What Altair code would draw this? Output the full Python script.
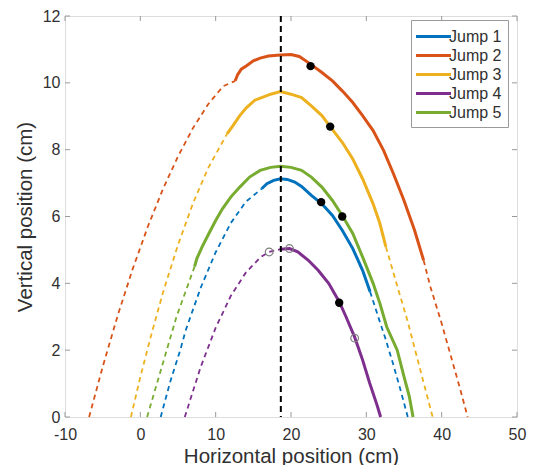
import altair as alt
import pandas as pd

jumps = ["Jump 1", "Jump 2", "Jump 3", "Jump 4", "Jump 5"]
colors = ["#0072BD", "#D95319", "#EDB120", "#7E2F8E", "#77AC30"]

# measured (solid) trajectories
j1_x = [16.1, 16.8, 17.7, 18.6, 19.5, 20.5, 21.4, 22.7, 24.1, 25.5, 26.8, 28.2, 29.5, 30.5]
j1_y = [6.83, 6.98, 7.08, 7.13, 7.11, 7.03, 6.90, 6.63, 6.38, 6.03, 5.59, 5.04, 4.39, 3.75]
j2_x = [12.6, 12.9, 13.4, 14.1, 15.0, 15.9, 17.0, 18.6, 20.0, 21.1, 22.6, 24.1, 25.5, 26.8, 28.2, 29.5, 30.9, 32.3, 33.6, 35.0, 36.4, 37.6]
j2_y = [10.06, 10.24, 10.41, 10.51, 10.66, 10.74, 10.80, 10.83, 10.85, 10.79, 10.56, 10.31, 10.06, 9.76, 9.41, 9.02, 8.57, 7.97, 7.28, 6.48, 5.59, 4.69]
j3_x = [11.5, 12.3, 13.2, 14.1, 15.2, 16.1, 17.3, 18.6, 20.0, 21.4, 22.7, 24.1, 25.2, 26.8, 28.2, 29.5, 30.9, 31.8, 32.6]
j3_y = [8.47, 8.72, 9.02, 9.26, 9.48, 9.56, 9.66, 9.74, 9.66, 9.56, 9.31, 9.02, 8.69, 8.22, 7.72, 7.13, 6.38, 5.79, 5.09]
j4_x = [18.6, 19.8, 20.9, 22.3, 23.6, 25.0, 26.4, 27.3, 28.45, 29.5, 30.45, 31.4, 31.9]
j4_y = [5.02, 5.04, 4.94, 4.69, 4.39, 4.00, 3.45, 3.00, 2.39, 1.71, 1.01, 0.37, 0.0]
j5_x = [7.2, 7.5, 8.2, 9.1, 10.0, 10.9, 12.0, 13.2, 14.5, 15.9, 17.3, 18.6, 20.0, 21.4, 22.7, 24.1, 25.5, 26.8, 28.2, 29.5, 30.9, 31.8, 32.7, 34.1, 35.0, 35.7, 36.2]
j5_y = [4.50, 4.74, 5.09, 5.49, 5.88, 6.23, 6.58, 6.88, 7.18, 7.38, 7.47, 7.50, 7.47, 7.38, 7.18, 6.88, 6.48, 6.03, 5.49, 4.79, 4.00, 3.40, 2.70, 2.00, 1.21, 0.62, 0.0]

# fitted (dashed) extrapolations
f1l_x = [2.7, 4.0, 5.3, 6.0, 8.0, 10.0, 12.0, 14.0, 16.1]
f1l_y = [0.0, 1.08, 2.0, 2.58, 3.86, 4.93, 5.80, 6.44, 6.83]
f1r_x = [30.5, 31.5, 32.5, 33.5, 34.5, 35.5]
f1r_y = [3.75, 3.05, 2.37, 1.63, 0.84, 0.0]
f2l_x = [-6.8, -5.0, -3.0, -1.0, 1.0, 3.0, 5.0, 7.0, 9.0, 11.0, 12.6]
f2l_y = [0.0, 1.5, 3.04, 4.44, 5.70, 6.82, 7.80, 8.65, 9.36, 9.90, 10.06]
f2r_x = [37.6, 38.5, 40.0, 41.5, 42.5, 43.45]
f2r_y = [4.69, 3.90, 2.80, 1.60, 0.80, 0.0]
f3l_x = [-1.25, 0.0, 1.5, 3.0, 5.0, 7.0, 9.0, 11.5]
f3l_y = [0.0, 1.2, 2.5, 3.72, 5.15, 6.40, 7.45, 8.47]
f3r_x = [32.6, 34.0, 35.5, 37.0, 38.8]
f3r_y = [5.09, 4.00, 2.85, 1.55, 0.0]
f4l_x = [5.9, 8.0, 10.0, 12.0, 14.0, 16.0, 17.1, 18.6]
f4l_y = [0.0, 1.49, 2.67, 3.62, 4.32, 4.79, 4.94, 5.02]
f5l_x = [0.9, 2.2, 3.5, 4.8, 6.4, 7.2]
f5l_y = [0.0, 1.0, 2.0, 3.0, 4.0, 4.5]

# markers
dot_x = [22.6, 25.2, 24.0, 26.8, 26.4]
dot_y = [10.5, 8.69, 6.43, 6.0, 3.42]
open_x = [17.1, 19.8, 28.45]
open_y = [4.94, 5.04, 2.36]
apex_x = [18.65]

x_ticks = [-10, 0, 10, 20, 30, 40, 50]
y_ticks = [0, 2, 4, 6, 8, 10, 12]

col_of = dict(zip(jumps, colors))

solid_rows = []
for name, xs, ys in [("Jump 1", j1_x, j1_y), ("Jump 2", j2_x, j2_y), ("Jump 3", j3_x, j3_y),
                     ("Jump 4", j4_x, j4_y), ("Jump 5", j5_x, j5_y)]:
    for i, (a, b) in enumerate(zip(xs, ys)):
        solid_rows.append({"jump": name, "x": a, "y": b, "i": i})
solid = pd.DataFrame(solid_rows)

dash_rows = []
for name, seg, xs, ys in [("Jump 1", "1l", f1l_x, f1l_y), ("Jump 1", "1r", f1r_x, f1r_y),
                          ("Jump 2", "2l", f2l_x, f2l_y), ("Jump 2", "2r", f2r_x, f2r_y),
                          ("Jump 3", "3l", f3l_x, f3l_y), ("Jump 3", "3r", f3r_x, f3r_y),
                          ("Jump 4", "4l", f4l_x, f4l_y), ("Jump 5", "5l", f5l_x, f5l_y)]:
    for i, (a, b) in enumerate(zip(xs, ys)):
        dash_rows.append({"jump": name, "col": col_of[name], "seg": seg, "x": a, "y": b, "i": i})
dashed = pd.DataFrame(dash_rows)

dots = pd.DataFrame({"x": dot_x, "y": dot_y})
opens = pd.DataFrame({"x": open_x, "y": open_y})
apex = pd.DataFrame({"x": apex_x})
xt = pd.DataFrame({"x": x_ticks})
yt = pd.DataFrame({"y": y_ticks})

W, H = 452, 401
FONT = "Liberation Sans"
AX = "#9a9a9a"
TXT = "#303030"

xscale = alt.Scale(domain=[-10, 50], nice=False, zero=False)
yscale = alt.Scale(domain=[0, 12], nice=False)

xenc = alt.X("x:Q", scale=xscale, title="Horizontal position (cm)",
             axis=alt.Axis(values=x_ticks, tickSize=0, labelPadding=9, domain=False, grid=False,
                           labelFlush=False, labelExpr="datum.value",
                           labelFontSize=16, titleFontSize=20.5, titlePadding=4,
                           labelColor=TXT, titleColor=TXT, labelFont=FONT, titleFont=FONT,
                           titleFontWeight="normal"))
yenc = alt.Y("y:Q", scale=yscale, title="Vertical position (cm)",
             axis=alt.Axis(values=y_ticks, tickSize=0, labelPadding=5, domain=False, grid=False,
                           labelFlush=False, labelExpr="datum.value",
                           labelFontSize=16, titleFontSize=20.5, titlePadding=7,
                           labelColor=TXT, titleColor=TXT, labelFont=FONT, titleFont=FONT,
                           titleFontWeight="normal"))

cscale = alt.Scale(domain=jumps, range=colors)

dash_layer = alt.Chart(dashed).mark_line(strokeWidth=1.8, strokeDash=[5, 4]).encode(
    x=xenc, y=yenc,
    stroke=alt.Stroke("col:N", scale=None),
    detail="seg:N",
    order="i:Q",
)

solid_layer = alt.Chart(solid).mark_line(strokeWidth=3).encode(
    x="x:Q", y="y:Q",
    color=alt.Color("jump:N", scale=cscale, legend=alt.Legend(
        title=None, orient="none", legendX=346, legendY=4,
        symbolType="M-2,0L2,0", symbolSize=306, symbolStrokeWidth=3,
        symbolOffset=6, labelOffset=5,
        labelFontSize=16, labelFont=FONT, labelColor=TXT,
        fillColor="white", strokeColor=AX, padding=6, rowPadding=0,
    )),
    order="i:Q",
)

apex_layer = alt.Chart(apex).mark_rule(color="black", strokeWidth=2, strokeDash=[6, 4]).encode(x="x:Q")

dot_layer = alt.Chart(dots).mark_circle(size=70, color="black", opacity=1).encode(x="x:Q", y="y:Q")
open_layer = alt.Chart(opens).mark_point(shape="circle", filled=False, color="#808080",
                                         size=60, strokeWidth=1.2, opacity=1).encode(x="x:Q", y="y:Q")

tb = alt.Chart(xt).mark_rule(color=AX).encode(x="x:Q", y=alt.value(H), y2=alt.value(H - 5))
tt = alt.Chart(xt).mark_rule(color=AX).encode(x="x:Q", y=alt.value(0), y2=alt.value(5))
tl = alt.Chart(yt).mark_rule(color=AX).encode(y="y:Q", x=alt.value(0), x2=alt.value(5))
tr = alt.Chart(yt).mark_rule(color=AX).encode(y="y:Q", x=alt.value(W), x2=alt.value(W - 5))

chart = alt.layer(
    dash_layer, solid_layer, apex_layer, dot_layer, open_layer, tb, tt, tl, tr
).properties(
    width=W, height=H,
    autosize=alt.AutoSizeParams(type="none"),
    padding={"left": 57, "top": 8, "right": 12, "bottom": 48},
).configure_view(
    stroke=AX, strokeWidth=1
).configure(
    background="white"
)

chart.save("out.html", embed_options={"renderer": "svg", "actions": False})
